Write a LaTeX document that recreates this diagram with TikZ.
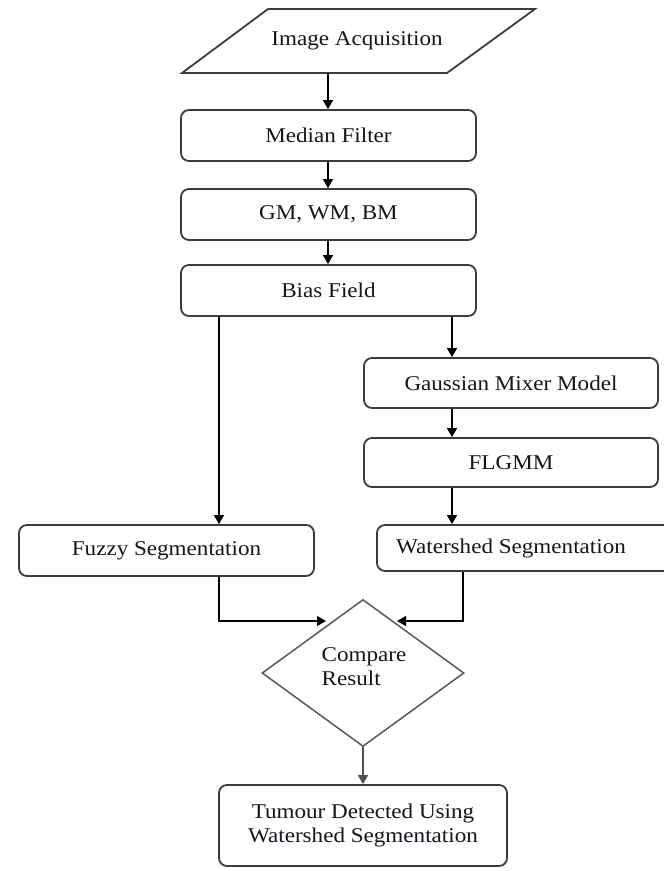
\documentclass[tikz,border=0pt]{standalone}
\usepackage{fontspec}
\setmainfont{Liberation Serif}[FakeStretch=1.1]
\usetikzlibrary{arrows.meta,shapes.geometric}
\definecolor{edge}{HTML}{3C3C3C}
\definecolor{ink}{HTML}{15151F}
\tikzset{
  box/.style={draw=edge, line width=1.8pt, rounded corners=8pt, fill=white,
    minimum width=295pt, minimum height=51pt, inner sep=0pt, text=ink},
  decision/.style={diamond, draw=edge!85, line width=1.5pt, fill=white,
    minimum width=202pt, minimum height=147pt, inner sep=0pt},
  label/.style={text=ink, inner sep=0pt},
  arr/.style={draw=black, line width=1.3pt, -{Triangle[length=9pt,width=10pt]}}
}
\begin{document}
\begin{tikzpicture}[x=1pt, y=-1pt, font=\fontsize{21}{25}\selectfont]
\clip (0,0) rectangle (664,871);
\fill[white] (0,0) rectangle (664,871);

% input parallelogram
\draw[edge, line width=1.8pt, line join=miter] (268,9) -- (535,9) -- (447,73) -- (182,73) -- cycle;
\node[label, minimum width=265pt, minimum height=64pt] (acq) at (328,41) {};
\node[label] (acqt) at (357,41) {Image Acquisition};

% main column
\node[box] (mf) at (328.5,135.5) {Median Filter};
\node[box] (gm) at (328.5,214.5) {GM, WM, BM};
\node[box] (bf) at (328.5,290.5) {Bias Field};

% right branch
\node[box, minimum width=294pt, minimum height=50pt] (gmm) at (511,383) {Gaussian Mixer Model};
\node[box, minimum width=294pt, minimum height=49pt] (fl) at (511,462.5) {FLGMM};
\node[box, minimum height=46pt] (ws) at (524.5,548) {};
\node[label] (wst) at (511,548) {Watershed Segmentation};

% left branch
\node[box] (fz) at (166.5,550.5) {Fuzzy Segmentation};

% decision and result
\node[decision] (dia) at (363,673) {};
\node[label, align=left] (diat) at (364,667) {Compare\\[-1pt]Result};
\node[box, minimum width=288pt, minimum height=81pt, align=center] (tu) at (363,825.5)
  {Tumour Detected Using\\[-1pt]Watershed Segmentation};

% connector columns and free ends
\coordinate (mx) at (328,0);
\coordinate (lx) at (219,0);
\coordinate (rx) at (452,0);
\coordinate (wx) at (463,0);
\coordinate (jl) at (326,621);
\coordinate (jr) at (397,621);

\draw[arr] (acq.south -| mx) -- (mf.north -| mx);
\draw[arr] (mf.south -| mx) -- (gm.north -| mx);
\draw[arr] (gm.south -| mx) -- (bf.north -| mx);
\draw[arr] (bf.south -| lx) -- (fz.north -| lx);
\draw[arr] (bf.south -| rx) -- (gmm.north -| rx);
\draw[arr] (gmm.south -| rx) -- (fl.north -| rx);
\draw[arr] (fl.south -| rx) -- (ws.north -| rx);
\draw[arr] (fz.south -| lx) |- (jl);
\draw[arr] (ws.south -| wx) |- (jr);
\draw[arr, draw=edge!90] (dia.south) -- (tu.north);
\end{tikzpicture}
\end{document}
